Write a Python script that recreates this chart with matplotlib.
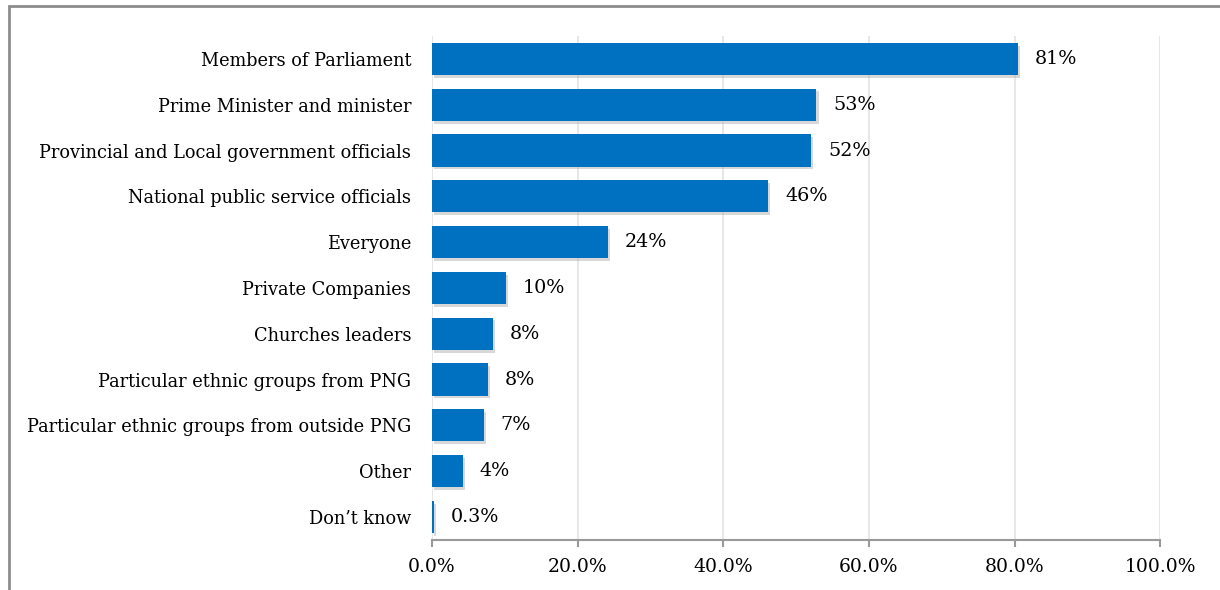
import matplotlib.pyplot as plt
import matplotlib.patheffects as pe
from matplotlib.patches import Rectangle
from matplotlib.ticker import PercentFormatter

# Data (top to bottom)
categories = ["Members of Parliament", "Prime Minister and minister",
              "Provincial and Local government officials",
              "National public service officials", "Everyone",
              "Private Companies", "Churches leaders",
              "Particular ethnic groups from PNG",
              "Particular ethnic groups from outside PNG",
              "Other", "Don\u2019t know"]
values = [80.5, 52.8, 52.1, 46.2, 24.2, 10.2, 8.4, 7.7, 7.1, 4.3, 0.3]
labels = ["81%", "53%", "52%", "46%", "24%", "10%", "8%", "8%", "7%", "4%", "0.3%"]

plt.rcParams['font.family'] = ['DejaVu Serif']
plt.rcParams['font.size'] = 12.8

fig = plt.figure(figsize=(12.2, 5.9), dpi=100)
ax = fig.add_axes([0.354, 0.085, 0.597, 0.854])

# figure frame
fig.patches.append(Rectangle((9 / 1220, -0.01), 1.02, 1 - 6 / 590 + 0.01,
                             transform=fig.transFigure, fill=False,
                             edgecolor="#8c8c8c", linewidth=2))

ypos = list(range(len(categories)))
bars = ax.barh(ypos, values, height=0.7, color="#0070C0", zorder=3)
for b in bars:
    b.set_path_effects([pe.SimplePatchShadow(offset=(1.5, -2), shadow_rgbFace="#aaaaaa", alpha=0.45),
                        pe.Normal()])

for y, v, lab in zip(ypos, values, labels):
    ax.annotate(lab, (v, y), xytext=(12, 0), textcoords="offset points",
                va="center", ha="left", fontsize=13.8)

ax.set_yticks(ypos)
ax.set_yticklabels(categories)
ax.set_ylim(len(categories) - 0.5, -0.5)
ax.set_xlim(0, 100)
ax.set_xticks([0, 20, 40, 60, 80, 100])
ax.xaxis.set_major_formatter(PercentFormatter(decimals=1))

ax.grid(axis="x", color="#e3e3e3", linewidth=1.2, zorder=0)
for s in ["top", "right", "left"]:
    ax.spines[s].set_visible(False)
ax.spines["bottom"].set_color("#999999")
ax.spines["bottom"].set_linewidth(1.5)
ax.tick_params(axis="y", length=0, pad=15)
ax.tick_params(axis="x", length=5, color="#999999", width=1.5, pad=8, labelsize=13.5)

plt.savefig("out.png")
